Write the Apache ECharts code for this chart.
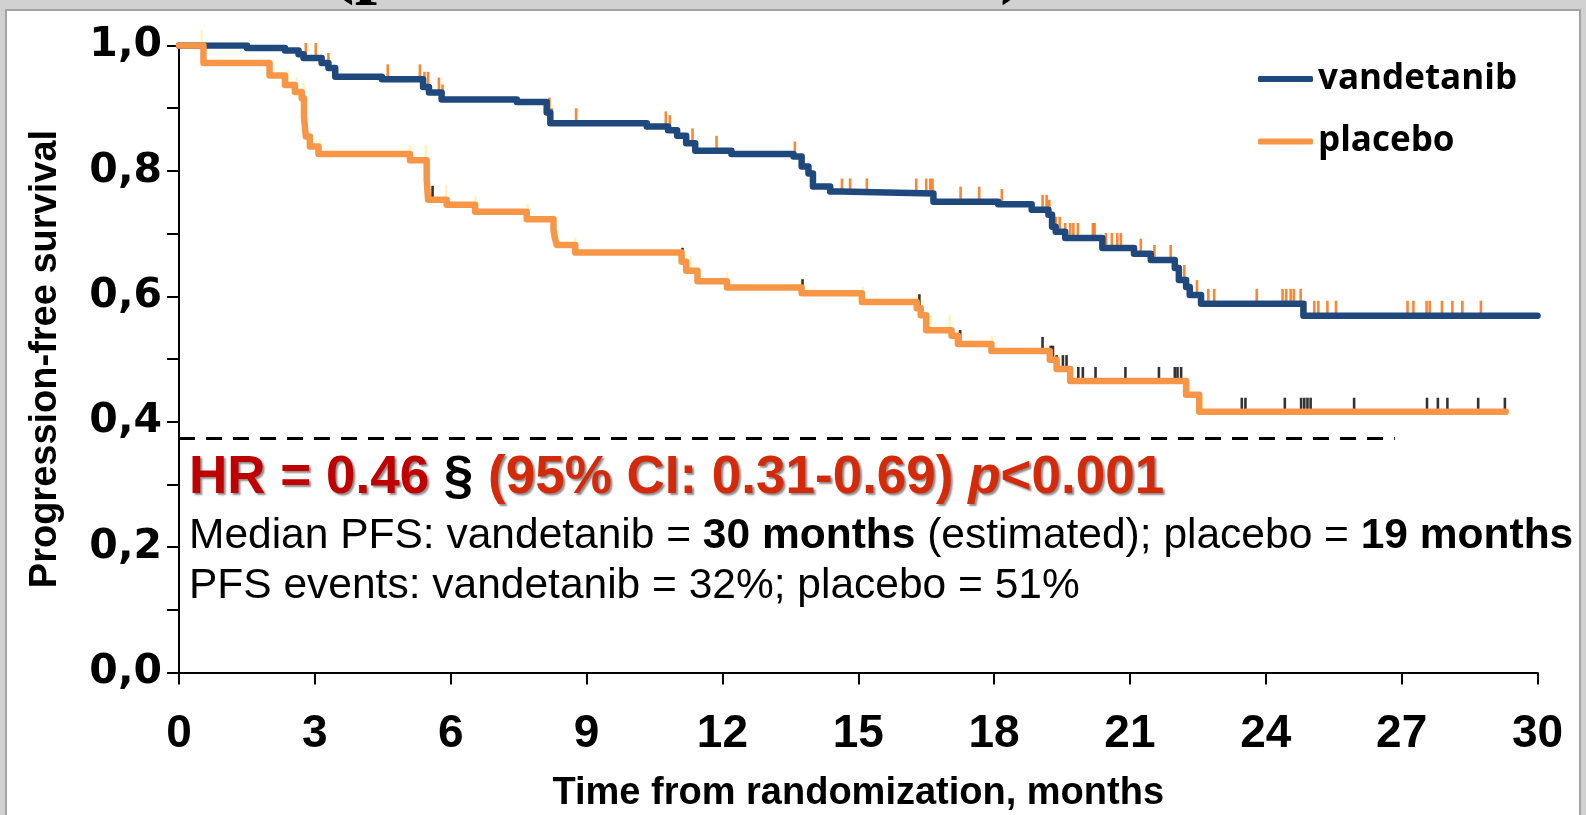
<!DOCTYPE html>
<html><head><meta charset="utf-8">
<script src="https://cdn.jsdelivr.net/npm/echarts@6/dist/echarts.min.js"></script>
<style>
html,body{margin:0;padding:0;width:1586px;height:815px;overflow:hidden;background:#d1d1d1;}
#title{position:absolute;top:-79px;left:0;width:1586px;height:80px;font:bold 80px "Liberation Serif";line-height:80px;color:#000;white-space:pre;}
#panel{position:absolute;left:5px;top:9px;width:1572px;height:812px;background:#fff;border:2px solid #a3a3a3;}
#chart{position:absolute;left:0;top:0;width:1586px;height:815px;}
</style></head>
<body>
<div id="title"><span style="position:absolute;left:328px">(p</span><span style="position:absolute;left:1000px">)</span></div>
<div id="panel"></div>
<div id="chart"></div>
<script>
// ---- data (time in months, progression-free survival) ----
const vandetanibSteps = [[0,1.0],[1.5,0.996],[2.34,0.992],[2.64,0.986],[2.75,0.980],[3.15,0.972],[3.3,0.964],[3.45,0.950],[4.48,0.946],[5.39,0.934],[5.52,0.925],[5.8,0.914],[7.46,0.910],[8.12,0.893],[8.2,0.876],[10.33,0.871],[10.8,0.865],[11.0,0.856],[11.2,0.844],[11.4,0.832],[12.2,0.827],[13.57,0.823],[13.75,0.807],[13.9,0.796],[14.0,0.775],[14.38,0.767],[14.6,0.764],[16.66,0.751],[18.09,0.747],[18.83,0.738],[19.2,0.730],[19.28,0.711],[19.36,0.703],[19.57,0.693],[20.39,0.677],[21.09,0.668],[21.46,0.658],[21.99,0.645],[22.08,0.626],[22.24,0.615],[22.32,0.602],[22.57,0.588],[24.83,0.569],[30,0.569]];
const placeboSteps = [[0,1.0],[0.54,0.972],[2.0,0.952],[2.34,0.937],[2.56,0.926],[2.71,0.916],[2.76,0.886],[2.8,0.855],[2.89,0.839],[3.08,0.827],[5.1,0.817],[5.47,0.786],[5.5,0.754],[5.91,0.746],[6.54,0.735],[7.68,0.723],[8.27,0.706],[8.3,0.693],[8.34,0.682],[8.75,0.670],[11.1,0.655],[11.2,0.641],[11.45,0.624],[12.1,0.614],[13.75,0.605],[15.08,0.591],[16.29,0.581],[16.38,0.570],[16.5,0.546],[17.06,0.537],[17.2,0.524],[17.94,0.513],[19.23,0.499],[19.38,0.484],[19.68,0.465],[22.24,0.443],[22.53,0.416],[29.3,0.416]];
const vandetanibCensor = [2.8,3.02,3.3,4.61,5.32,5.42,5.5,5.74,5.82,8.18,8.23,8.77,10.75,10.84,11.34,11.87,13.6,14.64,14.82,15.19,16.28,16.5,16.59,16.64,17.26,17.67,18.17,19.07,19.16,19.22,19.3,19.36,19.45,19.57,19.68,19.75,19.85,20.18,20.22,20.47,20.6,20.72,20.8,21.24,21.54,21.9,22.2,22.48,22.73,22.86,23.8,24.37,24.45,24.55,24.62,24.77,24.87,25.07,25.16,25.36,25.55,27.13,27.26,27.55,27.62,27.89,28.12,28.34,28.75];
const placeboCensor = [5.6,11.12,13.77,16.35,17.25,19.07,19.25,19.3,19.38,19.52,19.6,19.86,19.96,20.24,20.9,21.64,21.99,22.05,22.13,23.47,23.55,24.42,24.78,24.85,24.92,24.99,25.95,27.56,27.8,28.01,28.69,29.28];
const placeboFaintCensor = [0.5,2.0,2.4,2.6,2.75,3.1,5.1,5.45,5.9,6.55,7.7,8.28,8.35,8.75,11.12,11.3,12.1,13.75,15.1,16.3,16.42,16.6,17.02,17.95,19.42,19.7,22.3,22.6];
const referenceLine = {x0:0, x1:26.85, y:0.373};
const xRange = {min:0, max:30, interval:3};
const yRange = {min:0, max:1, interval:0.2};
const seriesNames = ['vandetanib','placebo'];
const xAxisTitle = 'Time from randomization, months';
const yAxisTitle = 'Progression-free survival';

function survAt(steps, t){ let s = steps[0][1]; for (const p of steps){ if (p[0] <= t) s = p[1]; else break; } return s; }

const chart = echarts.init(document.getElementById('chart'), null, {renderer:'canvas'});
const axisFont = 'Liberation Sans';
const option = {
  animation:false,
  backgroundColor:'transparent',
  grid:{left:179, right:48.5, top:45.5, bottom:142.4, containLabel:false, outerBoundsMode:'none'},
  legend:{data:seriesNames, orient:'vertical', left:1253, top:54, icon:'roundRect', itemWidth:55, itemHeight:6, itemGap:22.5, selectedMode:false,
    textStyle:{fontFamily:'Open Sans', fontWeight:'bold', fontSize:35, lineHeight:40, color:'#000'}},
  xAxis:{type:'value', min:xRange.min, max:xRange.max, interval:xRange.interval,
    axisLine:{show:true, onZero:false, lineStyle:{color:'#000', width:2}},
    axisTick:{show:true, length:12, lineStyle:{color:'#000', width:2}},
    axisLabel:{margin:39, fontFamily:axisFont, fontWeight:'bold', fontSize:46, color:'#000'},
    splitLine:{show:false},
    name:xAxisTitle, nameLocation:'middle', nameGap:102,
    nameTextStyle:{fontFamily:axisFont, fontWeight:'bold', fontSize:38, color:'#000'}},
  yAxis:{type:'value', min:yRange.min, max:yRange.max, interval:yRange.interval,
    axisLine:{show:true, lineStyle:{color:'#000', width:2}},
    axisTick:{show:true, length:12, lineStyle:{color:'#000', width:2}},
    minorTick:{show:true, splitNumber:2, length:12, lineStyle:{color:'#000', width:2}},
    axisLabel:{margin:17, fontFamily:'DejaVu Sans', fontWeight:'bold', fontSize:41, color:'#000',
      formatter:v=>v.toFixed(1).replace('.', ',')},
    splitLine:{show:false},
    name:yAxisTitle, nameLocation:'middle', nameGap:114, nameRotate:90,
    nameTextStyle:{fontFamily:axisFont, fontWeight:'bold', fontSize:38, color:'#000'}},
  series:[
    {name:'vandetanib-censor', type:'scatter', silent:true, z:2, symbol:'rect', symbolSize:[2.6,14], symbolOffset:[0,-8],
      itemStyle:{color:'#ff6600'}, data:vandetanibCensor.map(t=>[t, survAt(vandetanibSteps,t)])},
    {name:'placebo-faint', type:'scatter', silent:true, z:2, symbol:'rect', symbolSize:[2.4,14], symbolOffset:[0,-8],
      itemStyle:{color:'#fff3a8'}, data:placeboFaintCensor.map(t=>[t, survAt(placeboSteps,t)])},
    {name:'placebo-censor', type:'scatter', silent:true, z:2, symbol:'rect', symbolSize:[2.6,13], symbolOffset:[0,-7.5],
      itemStyle:{color:'#000'}, data:placeboCensor.map(t=>[t, survAt(placeboSteps,t)])},
    {name:seriesNames[0], type:'line', step:'end', showSymbol:false, symbol:'none', z:3,
      lineStyle:{color:'#1f497d', width:6.5, cap:'round', join:'round'}, itemStyle:{color:'#1f497d'},
      data:vandetanibSteps,
      markLine:{silent:true, symbol:'none', label:{show:false},
        lineStyle:{color:'#000', width:2.8, type:[16,11]},
        data:[[{coord:[referenceLine.x0, referenceLine.y]},{coord:[referenceLine.x1, referenceLine.y]}]]}},
    {name:seriesNames[1], type:'line', step:'end', showSymbol:false, symbol:'none', z:4,
      lineStyle:{color:'#f79646', width:6.5, cap:'round', join:'round'}, itemStyle:{color:'#f79646'},
      data:placeboSteps}
  ],
  graphic:[
    {type:'text', x:189, y:478, z:10, style:{
      text:'{a|HR = 0.46 }{s|§ }{c|(95% CI: 0.31-0.69) }{d|p}{c|<0.001}',
      verticalAlign:'middle', align:'left', fontSize:53, fontFamily:axisFont, fontWeight:'bold',
      rich:{
        a:{fontFamily:axisFont, fontWeight:'bold', fontSize:53, lineHeight:56, fill:'#c00000', textShadowColor:'rgba(0,0,0,0.45)', textShadowOffsetX:2, textShadowOffsetY:2, textShadowBlur:2},
        s:{fontFamily:axisFont, fontWeight:'bold', fontSize:53, lineHeight:56, fill:'#000'},
        c:{fontFamily:axisFont, fontWeight:'bold', fontSize:53, lineHeight:56, fill:'#d42a0a', textShadowColor:'rgba(0,0,0,0.45)', textShadowOffsetX:2, textShadowOffsetY:2, textShadowBlur:2},
        d:{fontFamily:axisFont, fontWeight:'bold', fontStyle:'italic', fontSize:53, lineHeight:56, fill:'#d42a0a', textShadowColor:'rgba(0,0,0,0.45)', textShadowOffsetX:2, textShadowOffsetY:2, textShadowBlur:2}
      }}},
    {type:'text', x:189, y:536, z:10, style:{
      text:'{r|Median PFS: vandetanib = }{b|30 months}{r| (estimated); placebo = }{b|19 months}',
      verticalAlign:'middle', align:'left', fontSize:42.5, fontFamily:axisFont,
      rich:{
        r:{fontFamily:axisFont, fontSize:42.5, lineHeight:46, fill:'#000'},
        b:{fontFamily:axisFont, fontWeight:'bold', fontSize:42.5, lineHeight:46, fill:'#000'}
      }}},
    {type:'text', x:189, y:586, z:10, style:{
      text:'PFS events: vandetanib = 32%; placebo = 51%',
      verticalAlign:'middle', align:'left', fontSize:42.5, fontFamily:axisFont, fill:'#000'}}
  ]
};
chart.setOption(option);
</script>
</body></html>
